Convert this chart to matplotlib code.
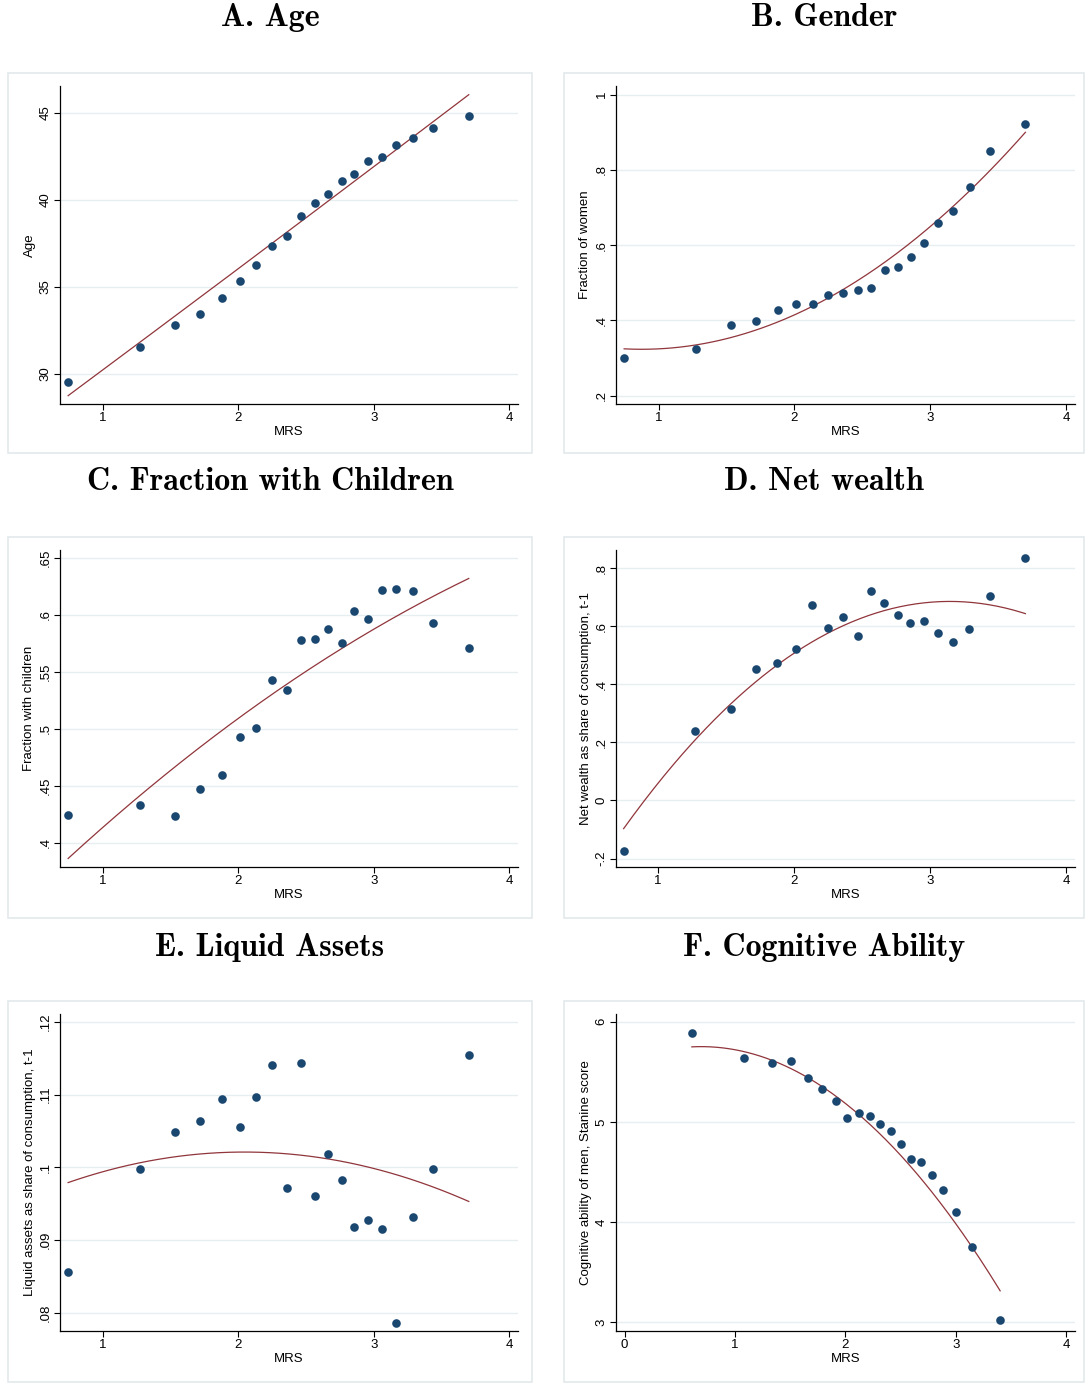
import numpy as np
import matplotlib.pyplot as plt
from matplotlib.patches import Rectangle

W, H = 1086, 1383

# bin means of MRS (panels A-E share the same bins)
mrs = [0.746, 1.274, 1.532, 1.719, 1.877, 2.013, 2.134, 2.250, 2.359, 2.466,
       2.564, 2.663, 2.763, 2.855, 2.954, 3.057, 3.166, 3.289, 3.439, 3.700]

age = [29.56, 31.52, 32.83, 33.47, 34.37, 35.34, 36.26, 37.36, 37.94, 39.06,
       39.81, 40.35, 41.12, 41.48, 42.27, 42.49, 43.16, 43.58, 44.12, 44.86]

women = [0.301, 0.325, 0.387, 0.399, 0.428, 0.445, 0.445, 0.467, 0.473, 0.482,
         0.487, 0.533, 0.543, 0.568, 0.605, 0.659, 0.690, 0.754, 0.849, 0.923]

children = [0.424, 0.433, 0.423, 0.447, 0.459, 0.493, 0.501, 0.543, 0.534, 0.578,
            0.579, 0.588, 0.575, 0.6035, 0.596, 0.622, 0.623, 0.621, 0.593, 0.571]

net_wealth = [-0.175, 0.238, 0.314, 0.452, 0.473, 0.520, 0.672, 0.595, 0.633, 0.566,
              0.720, 0.681, 0.639, 0.611, 0.619, 0.577, 0.544, 0.589, 0.704, 0.833]

liquid = [0.0856, 0.0998, 0.1048, 0.1064, 0.1094, 0.1055, 0.1097, 0.1141, 0.0972, 0.1143,
          0.0960, 0.1018, 0.0983, 0.0918, 0.0928, 0.0915, 0.0786, 0.0932, 0.0997, 0.1155]

# cognitive ability is only available for men, so its bins differ
mrs_men = [0.610, 1.083, 1.334, 1.512, 1.660, 1.791, 1.911, 2.018, 2.123, 2.221,
           2.316, 2.411, 2.503, 2.592, 2.687, 2.782, 2.887, 3.000, 3.147, 3.402]
cognitive = [5.883, 5.639, 5.592, 5.612, 5.438, 5.328, 5.207, 5.037, 5.087, 5.057,
             4.983, 4.906, 4.776, 4.632, 4.599, 4.472, 4.324, 4.100, 3.749, 3.027]

# fitted curve values at (first bin, middle, last bin); quadratic through them
age_fit = ([0.746, 2.0, 3.700], [28.75, 36.05, 46.06])
women_fit = ([0.746, 2.25, 3.700], [0.3246, 0.460, 0.900])
children_fit = ([0.746, 2.0, 3.700], [0.386, 0.509, 0.632])
wealth_fit = ([0.746, 2.0, 3.700], [-0.097, 0.507, 0.643])
liquid_fit = ([0.746, 2.05, 3.700], [0.0979, 0.1021, 0.0953])
cognitive_fit = ([0.610, 2.0, 3.402], [5.749, 5.185, 3.314])

titles = ["A. Age", "B. Gender", "C. Fraction with Children",
          "D. Net wealth", "E. Liquid Assets", "F. Cognitive Ability"]
ylabels = ["Age", "Fraction of women", "Fraction with children",
           "Net wealth as share of consumption, t-1",
           "Liquid assets as share of consumption, t-1",
           "Cognitive ability of men, Stanine score"]

panels = [
    dict(x=mrs, y=age, fit=age_fit, xlim=(0.686, 4.063), ylim=(28.27, 46.56),
         xticks=[1, 2, 3, 4], yticks=[30, 35, 40, 45], ytl=["30", "35", "40", "45"]),
    dict(x=mrs, y=women, fit=women_fit, xlim=(0.686, 4.065), ylim=(0.178, 1.023),
         xticks=[1, 2, 3, 4], yticks=[0.2, 0.4, 0.6, 0.8, 1.0], ytl=[".2", ".4", ".6", ".8", "1"]),
    dict(x=mrs, y=children, fit=children_fit, xlim=(0.686, 4.063), ylim=(0.3785, 0.657),
         xticks=[1, 2, 3, 4], yticks=[0.4, 0.45, 0.5, 0.55, 0.6, 0.65],
         ytl=[".4", ".45", ".5", ".55", ".6", ".65"]),
    dict(x=mrs, y=net_wealth, fit=wealth_fit, xlim=(0.69, 4.065), ylim=(-0.229, 0.862),
         xticks=[1, 2, 3, 4], yticks=[-0.2, 0, 0.2, 0.4, 0.6, 0.8],
         ytl=["-.2", "0", ".2", ".4", ".6", ".8"]),
    dict(x=mrs, y=liquid, fit=liquid_fit, xlim=(0.686, 4.063), ylim=(0.07747, 0.1211),
         xticks=[1, 2, 3, 4], yticks=[0.08, 0.09, 0.10, 0.11, 0.12],
         ytl=[".08", ".09", ".1", ".11", ".12"]),
    dict(x=mrs_men, y=cognitive, fit=cognitive_fit, xlim=(-0.077, 4.08), ylim=(2.913, 6.077),
         xticks=[0, 1, 2, 3, 4], yticks=[3, 4, 5, 6], ytl=["3", "4", "5", "6"]),
]

# pixel layout: axes (left, top, right, bottom), outer frame, title centre
col_axes = [(60, 518), (616, 1075)]
row_axes = [(86, 404), (550, 867), (1014, 1331)]
col_box = [(8, 532), (564, 1084)]
row_box = [(73, 453), (537, 918), (1001, 1382)]
title_y = [18, 482, 947]

navy = "#1a476f"
maroon = "#90353b"
grid_c = "#e6eef0"

plt.rcParams['font.family'] = ['Liberation Sans', 'DejaVu Sans']

fig = plt.figure(figsize=(W / 100, H / 100), dpi=100)
fig.patch.set_facecolor("white")

for i, p in enumerate(panels):
    r, c = divmod(i, 2)
    l, rt = col_axes[c]
    t, b = row_axes[r]
    ax = fig.add_axes([l / W, 1 - b / H, (rt - l) / W, (b - t) / H])

    bx0, bx1 = col_box[c]
    by0, by1 = row_box[r]
    fig.patches.append(Rectangle((bx0 / W, 1 - by1 / H), (bx1 - bx0) / W, (by1 - by0) / H,
                                 transform=fig.transFigure, fill=False,
                                 edgecolor="#e3eaec", linewidth=1.2))
    fig.text(((bx0 + bx1) / 2) / W, 1 - title_y[r] / H, titles[i],
             family="cmb10", fontsize=23, ha="center", va="center")

    ax.set_xlim(*p['xlim'])
    ax.set_ylim(*p['ylim'])
    ax.set_xticks(p['xticks'])
    ax.set_xticklabels([str(v) for v in p['xticks']])
    ax.set_yticks(p['yticks'])
    ax.set_yticklabels(p['ytl'], rotation=90, va="center")

    for yv in p['yticks']:
        ax.axhline(yv, color=grid_c, linewidth=1.0, zorder=0)

    fx, fy = p['fit']
    coef = np.polyfit(fx, fy, 2)
    xs = np.linspace(fx[0], fx[-1], 200)
    ax.plot(xs, np.polyval(coef, xs), color=maroon, linewidth=0.9, zorder=2)
    ax.plot(p['x'], p['y'], 'o', color=navy, markersize=6.2, markeredgewidth=0, zorder=3)

    for s in ['top', 'right']:
        ax.spines[s].set_visible(False)
    for s in ['left', 'bottom']:
        ax.spines[s].set_linewidth(0.9)
        ax.spines[s].set_color("black")
    ax.tick_params(axis='both', direction='out', length=4, width=0.8, labelsize=9.5, pad=2)
    ax.set_xlabel("MRS", fontsize=9.5, labelpad=1)
    ax.set_ylabel(ylabels[i], fontsize=9.5, labelpad=3)

fig.savefig("out.png", dpi=100, facecolor="white")
